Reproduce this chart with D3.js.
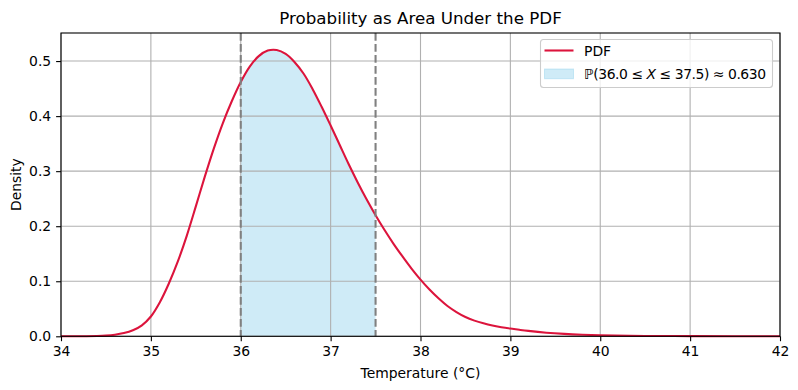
<!DOCTYPE html>
<html><head><meta charset="utf-8">
<script src="https://cdn.jsdelivr.net/npm/d3@7"></script>
<style>body{margin:0;background:#fff}svg{font-family:"DejaVu Sans",sans-serif}</style>
</head><body><svg id="c" width="798" height="390"></svg>
<script>
const tempX = [34.0,34.2,34.4,34.5,34.6,34.7,34.8,34.9,35.0,35.1,35.2,35.3,35.4,35.5,35.6,35.7,35.8,35.9,36.0,36.1,36.2,36.3,36.4,36.5,36.6,36.7,36.8,36.9,37.0,37.1,37.2,37.3,37.4,37.5,37.6,37.7,37.8,37.9,38.0,38.1,38.2,38.3,38.4,38.5,38.6,38.7,38.8,38.9,39.0,39.1,39.2,39.4,39.6,39.8,40.0,40.5,41.0,41.5,42.0];
const density = [0,0.0001,0.0005,0.0012,0.0028,0.0058,0.011,0.020,0.036,0.062,0.096,0.136,0.183,0.236,0.290,0.341,0.387,0.427,0.462,0.490,0.509,0.519,0.520,0.513,0.498,0.477,0.449,0.417,0.383,0.348,0.313,0.280,0.249,0.220,0.193,0.168,0.145,0.123,0.103,0.085,0.069,0.055,0.044,0.035,0.0285,0.0235,0.0195,0.0165,0.014,0.0118,0.0098,0.0066,0.0044,0.0029,0.0019,0.0007,0.0003,0.0001,0.00005];
const xTicks = [34,35,36,37,38,39,40,41,42];
const yTicks = [0,0.1,0.2,0.3,0.4,0.5];
const lower = 36.0, upper = 37.5, prob = 0.630;

const svg = d3.select("#c");
const L=61,R=780,T=33,B=336.3;
const FS=13.9;
const x = d3.scaleLinear().domain([34,42]).range([L,R]);
const y = d3.scaleLinear().domain([0,0.551]).range([B,T]);
const pts = tempX.map((t,i)=>[t,density[i]]);
const curve = d3.curveCatmullRom.alpha(0.5);

// shaded area
const shade = pts.filter(p=>p[0]>=lower && p[0]<=upper);
svg.append("path").datum(shade)
  .attr("d", d3.area().x(d=>x(d[0])).y0(y(0)).y1(d=>y(d[1])).curve(curve))
  .attr("fill","#87ceeb").attr("fill-opacity",0.4);

// grid
const g = svg.append("g");
xTicks.forEach(t=>g.append("line").attr("x1",x(t)).attr("x2",x(t)).attr("y1",T).attr("y2",B).attr("stroke","#b0b0b0").attr("stroke-width",1.1));
yTicks.forEach(t=>g.append("line").attr("x1",L).attr("x2",R).attr("y1",y(t)).attr("y2",y(t)).attr("stroke","#b0b0b0").attr("stroke-width",1.1));

// pdf line
svg.append("path").datum(pts)
  .attr("d", d3.line().x(d=>x(d[0])).y(d=>y(d[1])).curve(curve))
  .attr("fill","none").attr("stroke","#dc143c").attr("stroke-width",2.08);

// dashed bounds
[lower,upper].forEach(v=>svg.append("line").attr("x1",x(v)).attr("x2",x(v)).attr("y1",T).attr("y2",B)
  .attr("stroke","#808080").attr("stroke-width",2.08).attr("stroke-dasharray","7.7,3.3"));

// frame
svg.append("rect").attr("x",L).attr("y",T).attr("width",R-L).attr("height",B-T).attr("fill","none").attr("stroke","#000").attr("stroke-width",1.1);

// axes
const xa = svg.append("g").attr("transform",`translate(0,${B})`).call(d3.axisBottom(x).tickValues(xTicks).tickSize(4.9).tickPadding(4.9).tickFormat(d3.format("d")));
const ya = svg.append("g").attr("transform",`translate(${L},0)`).call(d3.axisLeft(y).tickValues(yTicks).tickSize(4.9).tickPadding(4.9).tickFormat(d3.format(".1f")));
[xa,ya].forEach(a=>{a.select(".domain").remove();a.selectAll("text").attr("font-size",FS).attr("fill","#000").attr("font-family","DejaVu Sans");a.selectAll("line").attr("stroke","#000").attr("stroke-width",1.1);});

// labels
svg.append("text").attr("x",(L+R)/2).attr("y",24).attr("text-anchor","middle").attr("font-size",16.7).text("Probability as Area Under the PDF");
svg.append("text").attr("x",(L+R)/2).attr("y",377.5).attr("text-anchor","middle").attr("font-size",FS).text("Temperature (°C)");
svg.append("text").attr("transform",`translate(21,${(T+B)/2}) rotate(-90)`).attr("text-anchor","middle").attr("font-size",FS).text("Density");

// legend
const lg = svg.append("g");
lg.append("rect").attr("x",540.5).attr("y",39.5).attr("width",232).attr("height",48).attr("rx",3)
  .attr("fill","#fff").attr("fill-opacity",0.8).attr("stroke","#cccccc").attr("stroke-width",1.1);
lg.append("line").attr("x1",544.5).attr("x2",573.5).attr("y1",50.5).attr("y2",50.5).attr("stroke","#dc143c").attr("stroke-width",2.08);
lg.append("text").attr("x",584).attr("y",55.5).attr("font-size",FS).text("PDF");
lg.append("rect").attr("x",544.5).attr("y",69).attr("width",29).attr("height",9.7).attr("fill","#87ceeb").attr("fill-opacity",0.4).attr("stroke","#87ceeb").attr("stroke-opacity",0.4);
const t2 = lg.append("text").attr("x",584).attr("y",79).attr("font-size",FS)
  .attr("textLength",182).attr("lengthAdjust","spacing");
t2.append("tspan").text(`ℙ(${lower.toFixed(1)} ≤ `);
t2.append("tspan").attr("font-style","italic").text("X");
t2.append("tspan").text(` ≤ ${upper.toFixed(1)}) ≈ ${prob.toFixed(3)}`);
</script></body></html>
